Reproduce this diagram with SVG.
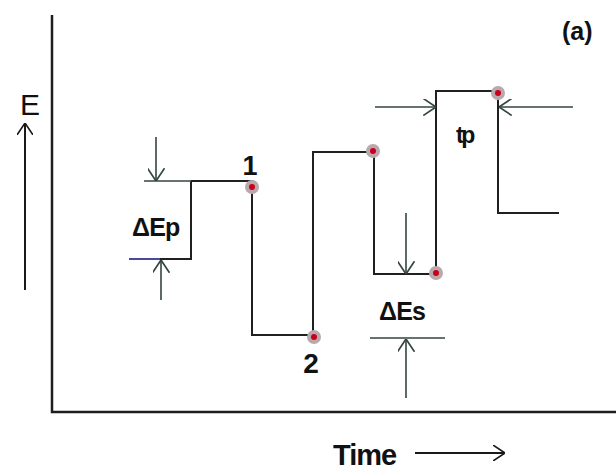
<svg xmlns="http://www.w3.org/2000/svg" width="616" height="470" viewBox="0 0 616 470">
  <style>
    .axis { stroke: #1e1e1e; stroke-width: 2.5; fill: none; }
    .step { stroke: #202020; stroke-width: 2; fill: none; stroke-linejoin: miter; }
    .dim { stroke: #34453f; stroke-width: 1.6; fill: none; }
    .lbl { font-family: "Liberation Sans", Arial, sans-serif; font-weight: bold; fill: #111; }
    .halo { fill: #b9a8ac; }
    .core { fill: #c8001e; }
  </style>
  <defs>
    <marker id="ak" viewBox="0 0 12 16" refX="12" refY="8" markerWidth="12" markerHeight="16" markerUnits="userSpaceOnUse" orient="auto">
      <path d="M0,0 L12,8 L0,16" fill="none" stroke="#1a1a1a" stroke-width="1.6"/>
    </marker>
    <marker id="ad" viewBox="0 0 12 16" refX="12" refY="8" markerWidth="13" markerHeight="17" markerUnits="userSpaceOnUse" orient="auto">
      <path d="M0,0 L12,8 L0,16" fill="none" stroke="#34453f" stroke-width="1.6"/>
    </marker>
  </defs>
  <rect width="616" height="470" fill="#ffffff"/>

  <g id="axes">
    <polyline class="axis" points="52,15 52,412 616,412"/>
    <line x1="25" y1="290" x2="25" y2="123" stroke="#1a1a1a" stroke-width="2" marker-end="url(#ak)"/>
    <text x="20" y="115" font-size="30" font-family="Liberation Sans, Arial, sans-serif" fill="#111">E</text>
    <line x1="415" y1="453" x2="505" y2="453" stroke="#1a1a1a" stroke-width="2" marker-end="url(#ak)"/>
    <text class="lbl" x="333" y="465" font-size="29" letter-spacing="-1">Time</text>
    <text class="lbl" x="562" y="40" font-size="25">(a)</text>
  </g>

  <g id="connectors">
    <polyline class="step" points="191,181 191,259 160,259"/>
    <line x1="129" y1="259" x2="160" y2="259" stroke="#4a4a9a" stroke-width="2"/>
    <line class="dim" x1="144" y1="181" x2="191" y2="181"/>
    <polyline class="step" points="191,181 252,181 252,335 315,335"/>
    <polyline class="step" points="313,335 313,152 373,152"/>
    <polyline class="step" points="374,152 374,274 436,274"/>
    <polyline class="step" points="436,274 436,91 498,91"/>
    <polyline class="step" points="498,93 498,213 559,213"/>

    <line class="dim" x1="156" y1="137" x2="156" y2="181" marker-end="url(#ad)"/>
    <line class="dim" x1="161" y1="300" x2="161" y2="260" marker-end="url(#ad)"/>
    <line class="dim" x1="406" y1="213" x2="406" y2="274" marker-end="url(#ad)"/>
    <line class="dim" x1="370" y1="338" x2="445" y2="338"/>
    <line class="dim" x1="406" y1="398" x2="406" y2="339" marker-end="url(#ad)"/>
    <line class="dim" x1="375" y1="107" x2="436" y2="107" marker-end="url(#ad)"/>
    <line class="dim" x1="573" y1="107" x2="499" y2="107" marker-end="url(#ad)"/>
  </g>

  <g id="point1">
    <circle class="halo" cx="252" cy="187" r="7"/>
    <circle class="core" cx="252" cy="187" r="3"/>
    <text class="lbl" x="250" y="175" font-size="27" text-anchor="middle">1</text>
  </g>
  <g id="point2">
    <circle class="halo" cx="314" cy="337" r="7"/>
    <circle class="core" cx="314" cy="337" r="3"/>
    <text class="lbl" x="311" y="373" font-size="28" text-anchor="middle">2</text>
  </g>
  <g id="point3">
    <circle class="halo" cx="373" cy="151" r="7"/>
    <circle class="core" cx="373" cy="151" r="3"/>
  </g>
  <g id="point4">
    <circle class="halo" cx="436" cy="273" r="7"/>
    <circle class="core" cx="436" cy="273" r="3"/>
  </g>
  <g id="point5">
    <circle class="halo" cx="498" cy="93" r="7"/>
    <circle class="core" cx="498" cy="93" r="3"/>
  </g>

  <g id="labels">
    <text class="lbl" x="132" y="236" font-size="25" letter-spacing="-0.8">ΔEp</text>
    <text class="lbl" x="379" y="320" font-size="25" letter-spacing="-0.8">ΔEs</text>
    <text class="lbl" x="456" y="143" font-size="23" letter-spacing="-2.5">tp</text>
  </g>
</svg>
